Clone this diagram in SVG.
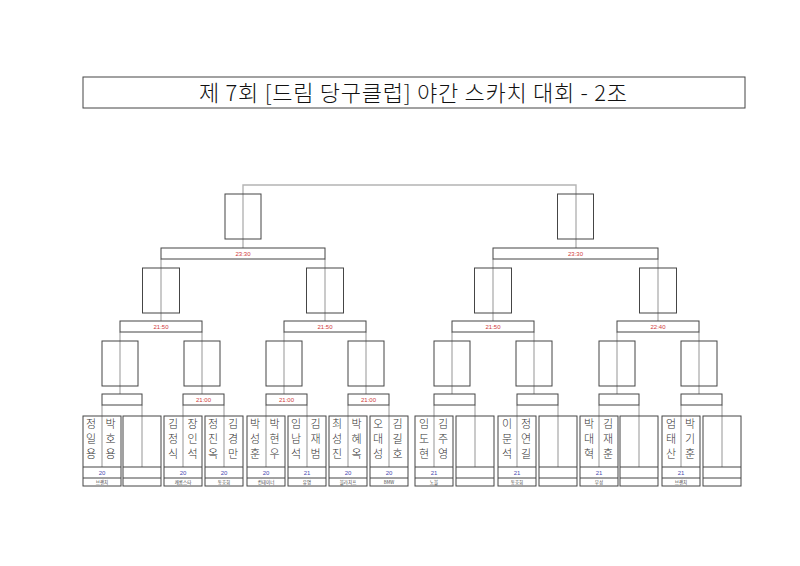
<svg xmlns="http://www.w3.org/2000/svg" width="800" height="566" viewBox="0 0 800 566">
<style>
.bx{fill:none;stroke:#454545;stroke-width:1}
.cn{fill:none;stroke:#b4b4b4;stroke-width:1.4}
.title{font-family:"Noto Sans CJK KR","Noto Sans",sans-serif;font-size:22px;font-weight:300;fill:#111;text-anchor:middle}
.tm{font-family:"Liberation Sans","Noto Sans CJK KR",sans-serif;font-size:6px;fill:#d03a3a;text-anchor:middle}
.nm{font-family:"Noto Sans CJK KR",sans-serif;font-size:11px;font-weight:300;fill:#333;text-anchor:middle}
.sc{font-family:"Liberation Sans",sans-serif;font-size:6px;fill:#4a4ab0;text-anchor:middle}
.cl{font-family:"Noto Sans CJK KR",sans-serif;font-size:4.5px;fill:#444;text-anchor:middle}
</style>
<rect width="800" height="566" fill="#fff"/>
<g id="title">
<rect x="83" y="77" width="662" height="31" class="bx"/>
<text x="413" y="101" class="title" textLength="428" lengthAdjust="spacing">제 7회 [드림 당구클럽] 야간 스카치 대회 - 2조</text>
</g>
<g id="connectors" class="cn">
<path d="M243,248V185H576V248"/>
<path d="M161,259V321M325,259V321M493,259V321M658,259V321"/>
<path d="M120,332V394M202,332V394M284,332V394M366,332V394M452,332V394M534,332V394M617,332V394M699,332V394"/>
<path d="M102,405V467M142,405V467M183,405V467M224,405V467M266,405V467M307,405V467M348,405V467M389,405V467M434,405V467M475,405V467M517,405V467M558,405V467M599,405V467M639,405V467M681,405V467M722,405V467"/>
</g>
<g id="semi-winners">
<rect id="sw1" x="225" y="194" width="36" height="45" class="bx"/>
<rect id="sw2" x="557.5" y="194" width="36" height="45" class="bx"/>
</g>
<g id="r3">
<g id="r3a"><rect x="161" y="248" width="164" height="11" class="bx"/><text x="243" y="256" class="tm">23:30</text></g>
<g id="r3b"><rect x="493" y="248" width="165" height="11" class="bx"/><text x="575.5" y="256" class="tm">23:30</text></g>
</g>
<g id="quarter-winners">
<rect x="142.5" y="268" width="37" height="45" class="bx"/>
<rect x="306.5" y="268" width="37" height="45" class="bx"/>
<rect x="474.5" y="268" width="37" height="45" class="bx"/>
<rect x="639.5" y="268" width="37" height="45" class="bx"/>
</g>
<g id="r2">
<g id="r2a"><rect x="120" y="321" width="82" height="11" class="bx"/><text x="161" y="329" class="tm">21:50</text></g>
<g id="r2b"><rect x="284" y="321" width="82" height="11" class="bx"/><text x="325" y="329" class="tm">21:50</text></g>
<g id="r2c"><rect x="452" y="321" width="82" height="11" class="bx"/><text x="493" y="329" class="tm">21:50</text></g>
<g id="r2d"><rect x="617" y="321" width="82" height="11" class="bx"/><text x="658" y="329" class="tm">22:40</text></g>
</g>
<g id="r1-winners">
<rect x="102" y="341" width="36" height="45" class="bx"/>
<rect x="184" y="341" width="36" height="45" class="bx"/>
<rect x="266" y="341" width="36" height="45" class="bx"/>
<rect x="348" y="341" width="36" height="45" class="bx"/>
<rect x="434" y="341" width="36" height="45" class="bx"/>
<rect x="516" y="341" width="36" height="45" class="bx"/>
<rect x="599" y="341" width="36" height="45" class="bx"/>
<rect x="681" y="341" width="36" height="45" class="bx"/>
</g>
<g id="r1">
<g id="r1a"><rect x="102" y="394" width="40" height="11" class="bx"/></g>
<g id="r1b"><rect x="183" y="394" width="41" height="11" class="bx"/><text x="203.5" y="402" class="tm">21:00</text></g>
<g id="r1c"><rect x="266" y="394" width="41" height="11" class="bx"/><text x="286.5" y="402" class="tm">21:00</text></g>
<g id="r1d"><rect x="348" y="394" width="41" height="11" class="bx"/><text x="368.5" y="402" class="tm">21:00</text></g>
<g id="r1e"><rect x="434" y="394" width="41" height="11" class="bx"/></g>
<g id="r1f"><rect x="517" y="394" width="41" height="11" class="bx"/></g>
<g id="r1g"><rect x="599" y="394" width="40" height="11" class="bx"/></g>
<g id="r1h"><rect x="681" y="394" width="41" height="11" class="bx"/></g>
</g>
<defs>
<g id="leafbox"><rect x="-19" y="416" width="38" height="70" class="bx"/><path d="M-19,467H19M-19,478H19" class="bx"/></g>
</defs>
<g id="leaves">
<g id="leaf1"><use href="#leafbox" x="102"/><text class="nm"><tspan x="91" y="428">정</tspan><tspan x="91" y="443">일</tspan><tspan x="91" y="458">용</tspan></text><text class="nm"><tspan x="110.5" y="428">박</tspan><tspan x="110.5" y="443">호</tspan><tspan x="110.5" y="458">용</tspan></text><text x="102" y="475" class="sc">20</text><text x="102" y="484" class="cl">브랜치</text></g>
<g id="leaf2"><use href="#leafbox" x="142"/></g>
<g id="leaf3"><use href="#leafbox" x="183"/><text class="nm"><tspan x="173" y="428">김</tspan><tspan x="173" y="443">정</tspan><tspan x="173" y="458">식</tspan></text><text class="nm"><tspan x="192.5" y="428">장</tspan><tspan x="192.5" y="443">인</tspan><tspan x="192.5" y="458">석</tspan></text><text x="183" y="475" class="sc">20</text><text x="183" y="484" class="cl">캐롬스타</text></g>
<g id="leaf4"><use href="#leafbox" x="224"/><text class="nm"><tspan x="213" y="428">정</tspan><tspan x="213" y="443">진</tspan><tspan x="213" y="458">옥</tspan></text><text class="nm"><tspan x="233" y="428">김</tspan><tspan x="233" y="443">경</tspan><tspan x="233" y="458">만</tspan></text><text x="224" y="475" class="sc">20</text><text x="224" y="484" class="cl">동호회</text></g>
<g id="leaf5"><use href="#leafbox" x="266"/><text class="nm"><tspan x="255" y="428">박</tspan><tspan x="255" y="443">성</tspan><tspan x="255" y="458">훈</tspan></text><text class="nm"><tspan x="274.5" y="428">박</tspan><tspan x="274.5" y="443">현</tspan><tspan x="274.5" y="458">우</tspan></text><text x="266" y="475" class="sc">20</text><text x="266" y="484" class="cl">컨테이너</text></g>
<g id="leaf6"><use href="#leafbox" x="307"/><text class="nm"><tspan x="296" y="428">임</tspan><tspan x="296" y="443">남</tspan><tspan x="296" y="458">석</tspan></text><text class="nm"><tspan x="315.5" y="428">김</tspan><tspan x="315.5" y="443">재</tspan><tspan x="315.5" y="458">범</tspan></text><text x="307" y="475" class="sc">21</text><text x="307" y="484" class="cl">유명</text></g>
<g id="leaf7"><use href="#leafbox" x="348"/><text class="nm"><tspan x="337" y="428">최</tspan><tspan x="337" y="443">성</tspan><tspan x="337" y="458">진</tspan></text><text class="nm"><tspan x="356.5" y="428">박</tspan><tspan x="356.5" y="443">혜</tspan><tspan x="356.5" y="458">옥</tspan></text><text x="348" y="475" class="sc">20</text><text x="348" y="484" class="cl">블라치프</text></g>
<g id="leaf8"><use href="#leafbox" x="389"/><text class="nm"><tspan x="378" y="428">오</tspan><tspan x="378" y="443">대</tspan><tspan x="378" y="458">성</tspan></text><text class="nm"><tspan x="397.5" y="428">김</tspan><tspan x="397.5" y="443">길</tspan><tspan x="397.5" y="458">호</tspan></text><text x="389" y="475" class="sc">20</text><text x="389" y="484" class="cl">BMW</text></g>
<g id="leaf9"><use href="#leafbox" x="434"/><text class="nm"><tspan x="424" y="428">임</tspan><tspan x="424" y="443">도</tspan><tspan x="424" y="458">현</tspan></text><text class="nm"><tspan x="443" y="428">김</tspan><tspan x="443" y="443">주</tspan><tspan x="443" y="458">영</tspan></text><text x="434" y="475" class="sc">21</text><text x="434" y="484" class="cl">노블</text></g>
<g id="leaf10"><use href="#leafbox" x="475"/></g>
<g id="leaf11"><use href="#leafbox" x="517"/><text class="nm"><tspan x="507" y="428">이</tspan><tspan x="507" y="443">문</tspan><tspan x="507" y="458">석</tspan></text><text class="nm"><tspan x="526" y="428">정</tspan><tspan x="526" y="443">연</tspan><tspan x="526" y="458">길</tspan></text><text x="517" y="475" class="sc">21</text><text x="517" y="484" class="cl">동호회</text></g>
<g id="leaf12"><use href="#leafbox" x="558"/></g>
<g id="leaf13"><use href="#leafbox" x="599"/><text class="nm"><tspan x="589" y="428">박</tspan><tspan x="589" y="443">대</tspan><tspan x="589" y="458">혁</tspan></text><text class="nm"><tspan x="608" y="428">김</tspan><tspan x="608" y="443">재</tspan><tspan x="608" y="458">훈</tspan></text><text x="599" y="475" class="sc">21</text><text x="599" y="484" class="cl">부성</text></g>
<g id="leaf14"><use href="#leafbox" x="639"/></g>
<g id="leaf15"><use href="#leafbox" x="681"/><text class="nm"><tspan x="671" y="428">엄</tspan><tspan x="671" y="443">태</tspan><tspan x="671" y="458">산</tspan></text><text class="nm"><tspan x="690" y="428">박</tspan><tspan x="690" y="443">기</tspan><tspan x="690" y="458">훈</tspan></text><text x="681" y="475" class="sc">21</text><text x="681" y="484" class="cl">브랜치</text></g>
<g id="leaf16"><use href="#leafbox" x="722"/></g>
</g>
</svg>
